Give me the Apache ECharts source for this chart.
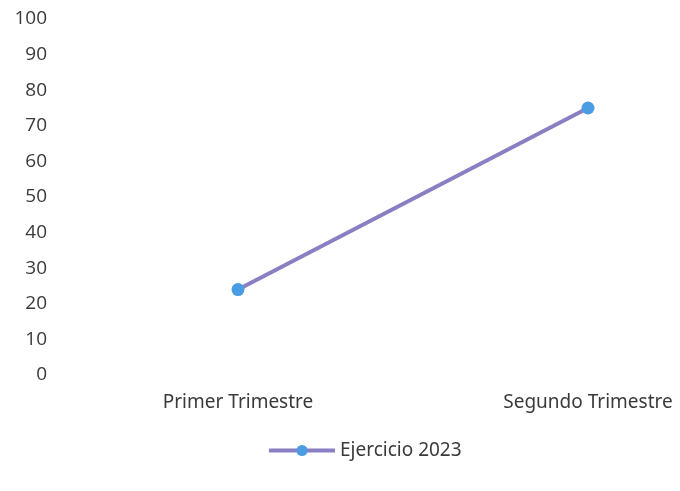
<!DOCTYPE html>
<html>
<head>
<meta charset="utf-8">
<script src="https://cdn.jsdelivr.net/npm/echarts@6/dist/echarts.min.js"></script>
<style>
	html, body { margin: 0; padding: 0; background: #fff; }
	#chart { width: 680px; height: 491px; }
</style>
</head>
<body>
<div id="chart"></div>
<script>
// 数据
var categories = ['Primer Trimestre', 'Segundo Trimestre'];
var seriesName = 'Ejercicio 2023';
var values = [24, 75];

var myChart = echarts.init(document.getElementById('chart'));

myChart.setOption({
	animation: false,
	backgroundColor: '#ffffff',
	grid: {
		left: 63,
		top: 19,
		bottom: 116,
		right: -83,
		outerBoundsMode: 'none'
	},
	legend: {
		bottom: 26,
		left: 262,
		itemWidth: 66,
		itemHeight: 14,
		itemGap: 5,
		lineStyle: { width: 4 },
		textStyle: {
			color: '#3a3a3a',
			fontSize: 19,
			fontFamily: 'Noto Sans'
		},
		data: [seriesName]
	},
	xAxis: {
		type: 'category',
		boundaryGap: true,
		data: categories,
		axisLine: { show: false },
		axisTick: { show: false },
		splitLine: { show: false },
		axisLabel: {
			margin: 18,
			color: '#3a3a3a',
			fontSize: 19,
			fontFamily: 'Noto Sans'
		}
	},
	yAxis: {
		type: 'value',
		min: 0,
		max: 100,
		interval: 10,
		axisLine: { show: false },
		axisTick: { show: false },
		splitLine: { show: false },
		axisLabel: {
			margin: 16,
			color: '#3a3a3a',
			fontSize: 19,
			fontFamily: 'Open Sans'
		}
	},
	series: [
		{
			name: seriesName,
			type: 'line',
			data: values,
			symbol: 'circle',
			symbolSize: 13,
			lineStyle: { color: '#8a7fc2', width: 4 },
			itemStyle: { color: '#4b9de3' }
		}
	]
});
</script>
</body>
</html>
